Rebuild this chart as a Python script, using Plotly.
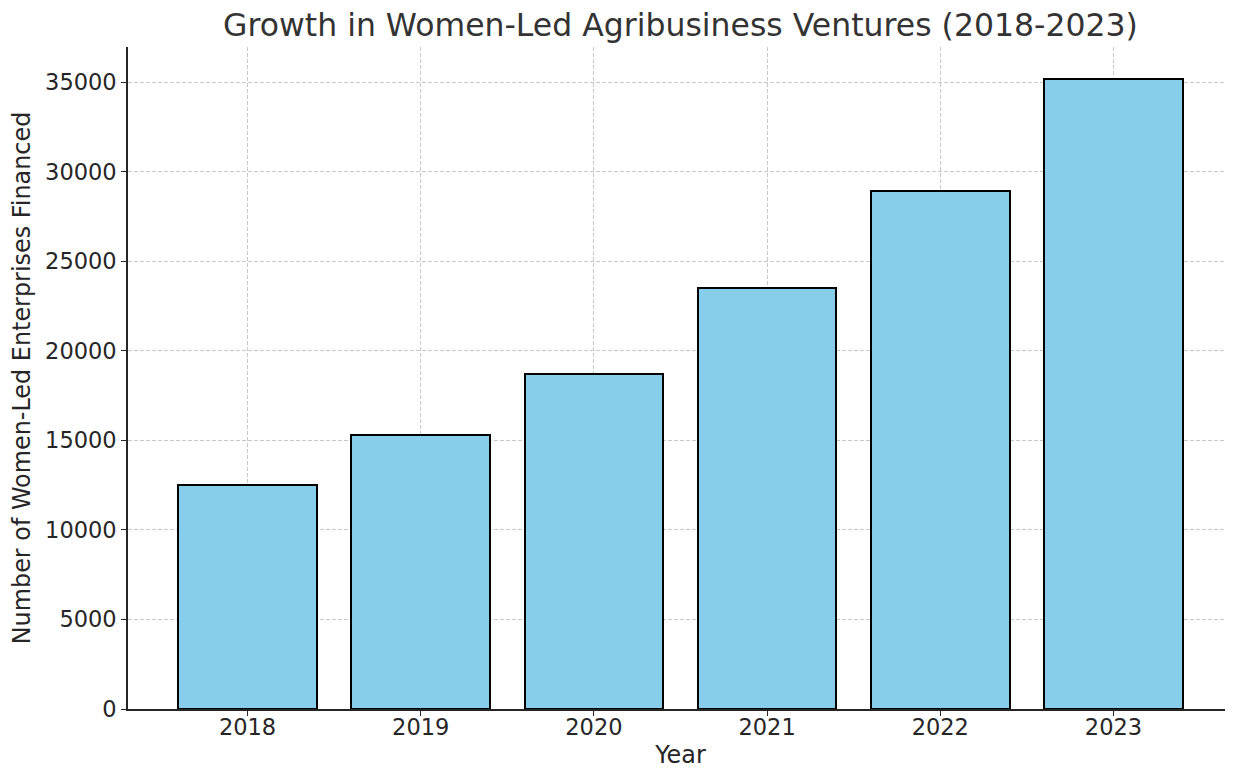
import plotly.graph_objects as go

years = ["2018", "2019", "2020", "2021", "2022", "2023"]
enterprises = [12500, 15300, 18700, 23500, 28900, 35200]
y_ticks = [0, 5000, 10000, 15000, 20000, 25000, 30000, 35000]

FONT = "DejaVu Sans"
TXT = "#262626"
FS = 22.5
FT = 23.9
W, H = 1225, 761

fig = go.Figure()
fig.add_trace(go.Bar(
    x=list(range(len(years))),
    y=enterprises,
    width=0.8,
    marker=dict(color="#87CEEB", line=dict(color="black", width=2)),
    hoverinfo="x+y",
))

# page has an 8px body margin; figure sized to fill the rest of the window
fig.update_layout(
    width=W, height=H,
    margin=dict(l=120, r=0, t=39, b=60),
    plot_bgcolor="white", paper_bgcolor="white",
    font=dict(family=FONT, color=TXT, size=FS),
    title=dict(text="Growth in Women-Led Agribusiness Ventures (2018-2023)",
               x=0.5, xanchor="center", xref="paper",
               y=1 - 17 / H, yref="container", yanchor="middle",
               font=dict(size=31.5, color="#333333", family=FONT)),
    showlegend=False,
    bargap=0,
)

fig.update_xaxes(
    range=[-0.69, 5.69], automargin=False,
    tickmode="array", tickvals=list(range(len(years))), ticktext=years,
    showline=True, linecolor="#262626", linewidth=1.6,
    ticks="outside", ticklen=5, tickcolor="#262626", tickwidth=1.2,
    ticklabelstandoff=-8,
    showgrid=True, gridcolor="#c8c8c8", griddash="4px,2px", gridwidth=1,
    zeroline=False, layer="above traces",
    title=dict(text="Year", font=dict(size=FT, color=TXT), standoff=14),
    tickfont=dict(size=FS, color=TXT),
)
fig.update_yaxes(
    range=[0, 36960], automargin=False,
    tickmode="array", tickvals=y_ticks, ticktext=[str(v) for v in y_ticks],
    showline=True, linecolor="#262626", linewidth=1.6,
    ticks="outside", ticklen=5, tickcolor="#262626", tickwidth=1.2,
    showgrid=True, gridcolor="#c8c8c8", griddash="4px,2px", gridwidth=1,
    zeroline=False, layer="above traces",
    title=dict(text="Number of Women-Led Enterprises Financed", font=dict(size=FT, color=TXT), standoff=9),
    tickfont=dict(size=FS, color=TXT),
)

fig.write_html("out.html")
